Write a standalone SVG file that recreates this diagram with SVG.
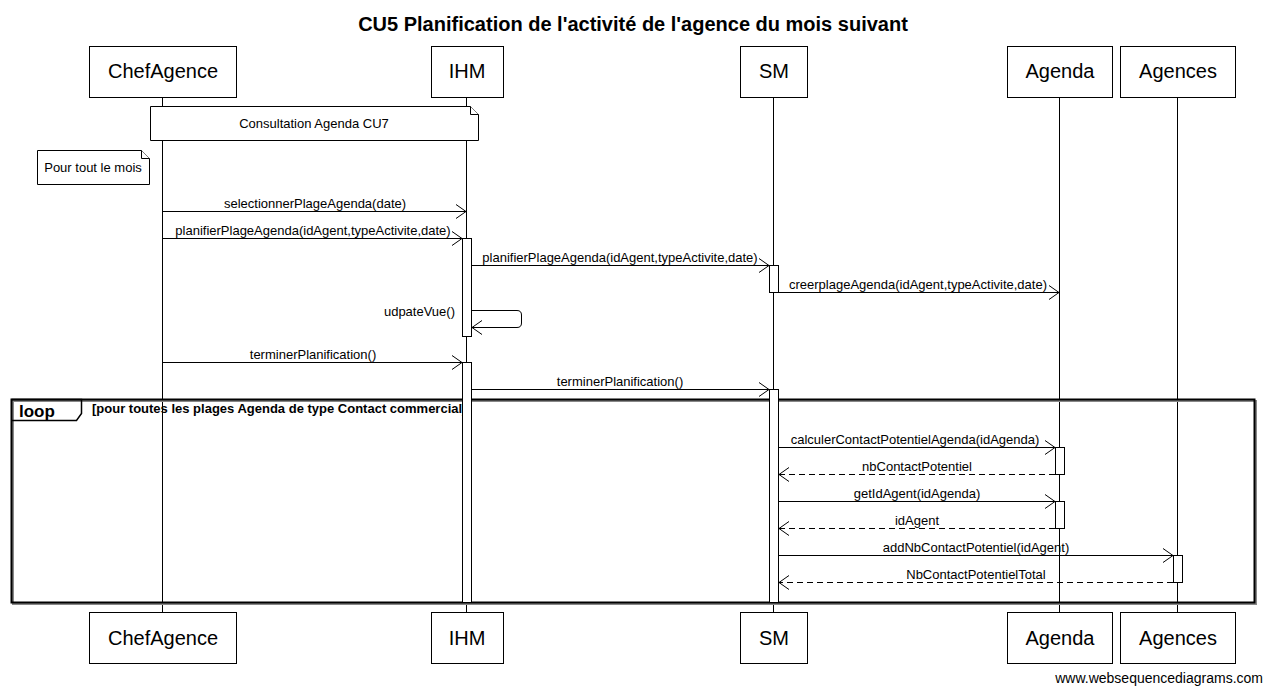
<svg xmlns="http://www.w3.org/2000/svg" width="1263" height="686" viewBox="0 0 1263 686">
<defs>
<marker id="open" viewBox="0 0 12 16" refX="11" refY="8" markerWidth="12" markerHeight="16" markerUnits="userSpaceOnUse" orient="auto">
<path d="M1,1 L11,8 L1,15" fill="none" stroke="#000" stroke-width="1"/>
</marker>
</defs>
<style>
text{font-family:"Liberation Sans",Arial,sans-serif;fill:#000}
.box{fill:#fff;stroke:#000;stroke-width:1}
.pl{font-size:20px;text-anchor:middle}
.life{stroke:#000;stroke-width:1;fill:none}
.act{fill:#fff;stroke:#000;stroke-width:1}
.msg{stroke:#000;stroke-width:1;fill:none;marker-end:url(#open)}
.ret{stroke:#000;stroke-width:1;fill:none;stroke-dasharray:6,4;marker-end:url(#open)}
.ml{font-size:13px;text-anchor:middle}
.note{fill:#fff;stroke:#000;stroke-width:1}
</style>
<rect width="1263" height="686" fill="#fff"/>
<text x="633" y="31" font-size="20" font-weight="bold" text-anchor="middle">CU5 Planification de l'activité de l'agence du mois suivant</text>

<g id="lifelines">
<line class="life" x1="162.5" y1="97" x2="162.5" y2="612"/>
<line class="life" x1="466.5" y1="97" x2="466.5" y2="612"/>
<line class="life" x1="773.5" y1="97" x2="773.5" y2="612"/>
<line class="life" x1="1059.5" y1="97" x2="1059.5" y2="612"/>
<line class="life" x1="1177.5" y1="97" x2="1177.5" y2="612"/>
</g>

<g id="p-ChefAgence">
<rect class="box" x="89.5" y="46.5" width="147" height="51"/><text class="pl" x="163" y="78">ChefAgence</text>
<rect class="box" x="89.5" y="612.5" width="147" height="51"/><text class="pl" x="163" y="645">ChefAgence</text>
</g>
<g id="p-IHM">
<rect class="box" x="431.5" y="46.5" width="72" height="51"/><text class="pl" x="467" y="78">IHM</text>
<rect class="box" x="431.5" y="612.5" width="72" height="51"/><text class="pl" x="467" y="645">IHM</text>
</g>
<g id="p-SM">
<rect class="box" x="740.5" y="46.5" width="67" height="51"/><text class="pl" x="774" y="78">SM</text>
<rect class="box" x="740.5" y="612.5" width="67" height="51"/><text class="pl" x="774" y="645">SM</text>
</g>
<g id="p-Agenda">
<rect class="box" x="1007.5" y="46.5" width="105" height="51"/><text class="pl" x="1060" y="78">Agenda</text>
<rect class="box" x="1007.5" y="612.5" width="105" height="51"/><text class="pl" x="1060" y="645">Agenda</text>
</g>
<g id="p-Agences">
<rect class="box" x="1120.5" y="46.5" width="115" height="51"/><text class="pl" x="1178" y="78">Agences</text>
<rect class="box" x="1120.5" y="612.5" width="115" height="51"/><text class="pl" x="1178" y="645">Agences</text>
</g>

<g id="note-consultation">
<path class="note" d="M150.5,106.5 H470.5 L478.5,114.5 V140.5 H150.5 Z"/>
<path class="note" d="M470.5,106.5 V114.5 H478.5"/>
<text x="314" y="128" font-size="13" text-anchor="middle">Consultation Agenda CU7</text>
</g>
<g id="note-mois">
<path class="note" d="M37.5,150.5 H141.5 L149.5,158.5 V184.5 H37.5 Z"/>
<path class="note" d="M141.5,150.5 V158.5 H149.5"/>
<text x="93" y="172" font-size="13" text-anchor="middle">Pour tout le mois</text>
</g>

<g id="loop-frame">
<rect x="13" y="401" width="1243" height="203" fill="none" stroke="#888" stroke-width="2"/>
<rect x="11.5" y="399.5" width="1243" height="203" fill="none" stroke="#000" stroke-width="2"/>
<path d="M11.5,399.5 H81.5 V413.5 L76.5,420.5 H11.5" fill="none" stroke="#000" stroke-width="1.5"/>
<text x="19" y="417" font-size="17" font-weight="bold">loop</text>
<text x="92" y="413" font-size="13" font-weight="bold">[pour toutes les plages Agenda de type Contact commercial]</text>
</g>

<g id="activations">
<rect class="act" x="462.5" y="238.5" width="9" height="98"/>
<rect class="act" x="769.5" y="265.5" width="9" height="27"/>
<rect class="act" x="462.5" y="362.5" width="9" height="240"/>
<rect class="act" x="769.5" y="389.5" width="9" height="213"/>
<rect class="act" x="1055.5" y="447.5" width="9" height="27"/>
<rect class="act" x="1055.5" y="501.5" width="9" height="27"/>
<rect class="act" x="1173.5" y="555.5" width="9" height="27"/>
</g>

<g id="connectors">
<line class="msg" x1="163" y1="211.5" x2="466" y2="211.5"/>
<text class="ml" x="315" y="208">selectionnerPlageAgenda(date)</text>
<line class="msg" x1="163" y1="238.5" x2="462" y2="238.5"/>
<text class="ml" x="313" y="235">planifierPlageAgenda(idAgent,typeActivite,date)</text>
<line class="msg" x1="472" y1="265.5" x2="769" y2="265.5"/>
<text class="ml" x="620" y="262">planifierPlageAgenda(idAgent,typeActivite,date)</text>
<line class="msg" x1="779" y1="292.5" x2="1059" y2="292.5"/>
<text class="ml" x="918" y="289">creerplageAgenda(idAgent,typeActivite,date)</text>
<path class="msg" d="M472,310.5 H517 Q521.5,310.5 521.5,315 V323 Q521.5,327.5 517,327.5 H472"/>
<text x="455" y="316" font-size="13" text-anchor="end">udpateVue()</text>
<line class="msg" x1="163" y1="362.5" x2="462" y2="362.5"/>
<text class="ml" x="313" y="359">terminerPlanification()</text>
<line class="msg" x1="472" y1="389.5" x2="769" y2="389.5"/>
<text class="ml" x="620" y="386">terminerPlanification()</text>
<line class="msg" x1="779" y1="447.5" x2="1055" y2="447.5"/>
<text class="ml" x="915" y="444">calculerContactPotentielAgenda(idAgenda)</text>
<line class="ret" x1="1055" y1="474.5" x2="779" y2="474.5"/>
<text class="ml" x="917" y="471">nbContactPotentiel</text>
<line class="msg" x1="779" y1="501.5" x2="1055" y2="501.5"/>
<text class="ml" x="917" y="498">getIdAgent(idAgenda)</text>
<line class="ret" x1="1055" y1="528.5" x2="779" y2="528.5"/>
<text class="ml" x="917" y="525">idAgent</text>
<line class="msg" x1="779" y1="555.5" x2="1173" y2="555.5"/>
<text class="ml" x="976" y="552">addNbContactPotentiel(idAgent)</text>
<line class="ret" x1="1173" y1="582.5" x2="779" y2="582.5"/>
<text class="ml" x="976" y="579">NbContactPotentielTotal</text>
</g>

<text x="1263" y="683" font-size="14" text-anchor="end">www.websequencediagrams.com</text>
</svg>
